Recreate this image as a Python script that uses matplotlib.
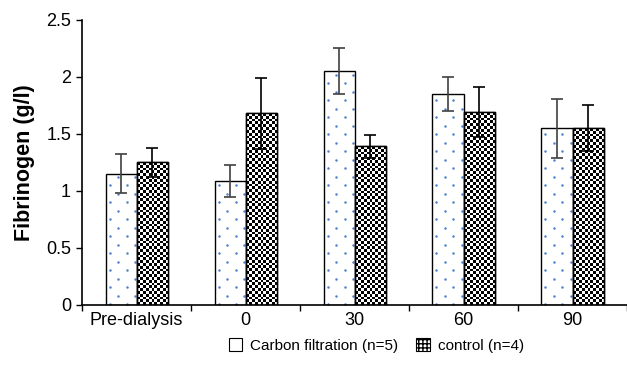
import numpy as np
import matplotlib
matplotlib.use("Agg")
import matplotlib.pyplot as plt
from matplotlib.patches import Patch

plt.rcParams['font.family'] = ['Liberation Sans', 'DejaVu Sans']

categories = ["Pre-dialysis", "0", "30", "60", "90"]
carbon = [1.15, 1.09, 2.05, 1.85, 1.55]
carbon_err = [0.17, 0.14, 0.20, 0.15, 0.26]
control = [1.25, 1.68, 1.39, 1.69, 1.55]
control_err = [0.13, 0.31, 0.10, 0.22, 0.20]

fig = plt.figure(figsize=(6.27, 3.70), dpi=100)
ax = fig.add_axes([0.131, 0.176, 0.869, 0.77])

x = np.arange(len(categories))
w = 0.285
PX_X = 109.0   # pixels per x unit
PX_Y = 114.0   # pixels per y unit

# carbon bars: white with small blue dot texture
cbars = ax.bar(x - w/2, carbon, w, color='white', edgecolor='none', zorder=2)
for rect in cbars:
    x0, hh, ww = rect.get_x(), rect.get_height(), rect.get_width()
    ys = np.arange(0.5, hh * PX_Y, 8.5) / PX_Y
    for i, yv in enumerate(ys):
        off = 4.0 if i % 2 == 0 else 12.5
        xs = x0 + np.arange(off, ww * PX_X, 17.0) / PX_X
        sc = ax.scatter(xs, np.full_like(xs, yv), s=3.2, color='#4f7fcf', linewidths=0, zorder=2.5)
        sc.set_clip_path(rect)
ax.bar(x - w/2, carbon, w, facecolor='none', edgecolor='black', linewidth=1.0, zorder=3)

# control bars: checkerboard via clipped image
cb = ax.bar(x + w/2, control, w, color='white', edgecolor='black', linewidth=1.0, zorder=2)
for rect in cb:
    x0, y0 = rect.get_x(), rect.get_y()
    ww, hh = rect.get_width(), rect.get_height()
    nx = 11
    ny = int(round(hh * PX_Y / 2.8))
    yy, xx = np.mgrid[0:ny, 0:nx]
    img = ((xx + yy) % 2).astype(float)
    im = ax.imshow(img, extent=[x0, x0 + ww, y0, y0 + hh], cmap='gray', vmin=0, vmax=1,
                   interpolation='nearest', aspect='auto', zorder=2.5)
    im.set_clip_path(rect)
ax.bar(x + w/2, control, w, facecolor='none', edgecolor='black', linewidth=1.0, zorder=3)

ax.errorbar(x - w/2, carbon, yerr=carbon_err, fmt='none', ecolor='#404040', elinewidth=1.2, capsize=4, capthick=1.2, zorder=4)
ax.errorbar(x + w/2, control, yerr=control_err, fmt='none', ecolor='black', elinewidth=1.2, capsize=4, capthick=1.2, zorder=4)

ax.set_xlim(-0.5, len(categories) - 0.5)
ax.set_ylim(0, 2.5)
ax.set_yticks([0, 0.5, 1, 1.5, 2, 2.5])
ax.set_yticklabels(['0', '0.5', '1', '1.5', '2', '2.5'])
ax.set_xticks(x)
ax.set_xticklabels(categories)
ax.set_xticks(np.arange(len(categories) + 1) - 0.5, minor=True)
ax.tick_params(axis='x', which='major', length=0, labelsize=13, pad=5)
ax.tick_params(axis='x', which='minor', length=4, width=1, direction='out')
ax.tick_params(axis='y', length=4, width=1, direction='out', labelsize=13, pad=4)
ax.spines['top'].set_visible(False)
ax.spines['right'].set_visible(False)
ax.spines['left'].set_linewidth(1.2)
ax.spines['bottom'].set_linewidth(1.2)
ax.set_ylabel('Fibrinogen (g/l)', fontsize=15.5, fontweight='bold', labelpad=8)

handles = [Patch(facecolor='white', edgecolor='black', linewidth=0.8),
           Patch(facecolor='white', edgecolor='black', hatch='++++', linewidth=0.8)]
fig.legend(handles, ['Carbon filtration (n=5)', 'control (n=4)'], loc='center',
           bbox_to_anchor=(0.6, 0.066), ncol=2, frameon=False, fontsize=11,
           handlelength=0.9, handleheight=0.9, handletextpad=0.5, columnspacing=1.2)

fig.savefig('out.png', dpi=100)
